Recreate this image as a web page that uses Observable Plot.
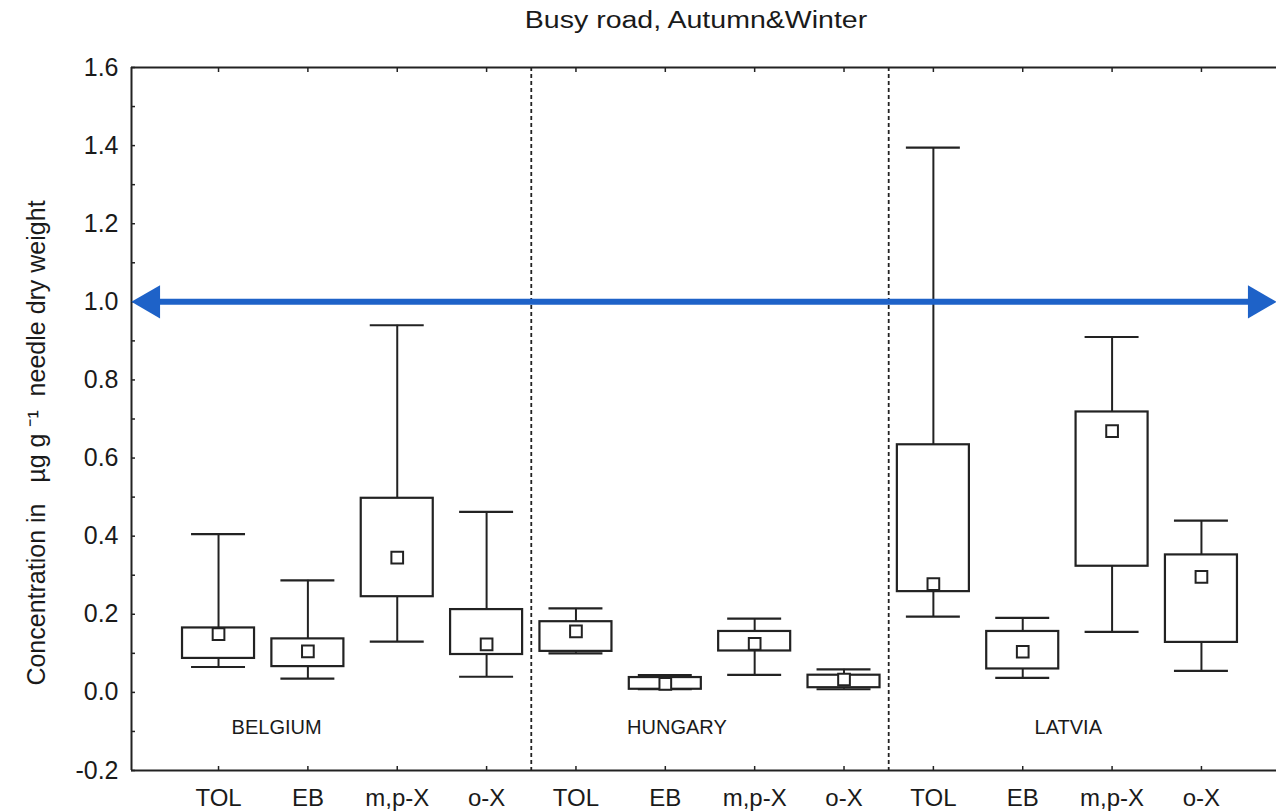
<!DOCTYPE html>
<html>
<head>
<meta charset="utf-8">
<script src="https://cdn.jsdelivr.net/npm/d3@7"></script>
<script src="https://cdn.jsdelivr.net/npm/@observablehq/plot@0.6"></script>
<style>
  body { margin: 0; background: #fff; }
  #wrap { position: relative; width: 1276px; height: 812px; overflow: hidden; }
  #title { position: absolute; top: 9px; left: 696px; transform: translateX(-50%) scaleX(1.24);
           font: 23px/23px "Liberation Sans", Arial, sans-serif; color: #1a1a1a; white-space: nowrap; }
  #chart { position: absolute; top: 0; left: 0; }
</style>
</head>
<body>
<div id="wrap">
  <div id="chart"></div>
  <div id="title">Busy road, Autumn&amp;Winter</div>
</div>
<script>
// ---- data ----
const countries = ["BELGIUM", "HUNGARY", "LATVIA"];
const compounds = ["TOL", "EB", "m,p-X", "o-X"];
// order: BELGIUM (TOL, EB, m,p-X, o-X), HUNGARY (...), LATVIA (...)
const whiskerLow  = [0.065, 0.035, 0.130, 0.040,   0.100, 0.008, 0.045, 0.008,   0.194, 0.037, 0.155, 0.055];
const boxLow      = [0.087, 0.066, 0.245, 0.097,   0.105, 0.008, 0.106, 0.012,   0.258, 0.060, 0.323, 0.128];
const meanValue   = [0.149, 0.105, 0.345, 0.123,   0.156, 0.022, 0.124, 0.033,   0.277, 0.104, 0.669, 0.296];
const boxHigh     = [0.165, 0.137, 0.497, 0.212,   0.181, 0.038, 0.156, 0.044,   0.634, 0.156, 0.718, 0.352];
const whiskerHigh = [0.405, 0.287, 0.940, 0.462,   0.215, 0.044, 0.189, 0.059,   1.395, 0.191, 0.910, 0.440];
const limitValue = 1.0;
const yTicksMajor = [-0.2, 0.0, 0.2, 0.4, 0.6, 0.8, 1.0, 1.2, 1.4, 1.6];
const yTicksMinor = [-0.2, -0.1, 0.0, 0.1, 0.2, 0.3, 0.4, 0.5, 0.6, 0.7, 0.8, 0.9, 1.0, 1.1, 1.2, 1.3, 1.4, 1.5, 1.6];
const countryLabelAt = [0.65, 5.13, 9.51]; // label anchor, in category-index units

// ---- table built from the arrays ----
const table = [];
countries.forEach((c, ci) => compounds.forEach((k, ki) => {
  const i = ci * compounds.length + ki;
  table.push({i, country: c, compound: k,
    lo: whiskerLow[i], q1: boxLow[i], mean: meanValue[i], q3: boxHigh[i], hi: whiskerHigh[i]});
}));
const idx = table.map(d => d.i);
const dividers = d3.range(1, countries.length).map(k => k * compounds.length - 0.5);
const xDomain = [-0.974, 11.84];
const yDomain = [-0.2, 1.6];
const ink = "#222";
const blue = "#1e62c8";

const chart = Plot.plot({
  width: 1276,
  height: 812,
  marginLeft: 131,
  marginRight: 0,
  marginTop: 67,
  marginBottom: 42,
  style: {fontFamily: "'Liberation Sans', Arial, sans-serif", color: "#1a1a1a", background: "#fff"},
  x: {type: "linear", domain: xDomain, label: null},
  y: {domain: yDomain, label: null},
  marks: [
    // frame lines (top, bottom, left)
    Plot.ruleY(yDomain, {stroke: ink, strokeWidth: 2}),
    Plot.ruleX([xDomain[0]], {stroke: ink, strokeWidth: 2}),
    // group dividers
    Plot.ruleX(dividers, {stroke: ink, strokeWidth: 1.8, strokeDasharray: "4,3"}),
    // axes
    Plot.axisY({ticks: yTicksMajor, tickSize: 0, tickPadding: 13, tickFormat: d => d.toFixed(1), fontSize: 25, label: null}),
    Plot.axisY({ticks: yTicksMinor, tickSize: 4, dx: 4, tickFormat: () => "", label: null, stroke: ink, strokeWidth: 1.5}),
    Plot.axisX({anchor: "top", ticks: idx, tickSize: 4, dy: 4, tickFormat: () => "", label: null, stroke: ink, strokeWidth: 1.5}),
    Plot.axisX({anchor: "bottom", ticks: idx, tickSize: 4, dy: -4, tickFormat: () => "", label: null, stroke: ink, strokeWidth: 1.5}),
    Plot.axisX({anchor: "bottom", ticks: idx, tickSize: 0, tickPadding: 18, tickFormat: i => table[i].compound, fontSize: 24, label: null}),
    // whiskers
    Plot.ruleX(table, {x: "i", y1: "q3", y2: "hi", stroke: ink, strokeWidth: 2}),
    Plot.ruleX(table, {x: "i", y1: "lo", y2: "q1", stroke: ink, strokeWidth: 2}),
    Plot.ruleY(table, {y: "hi", x1: d => d.i - 0.302, x2: d => d.i + 0.302, stroke: ink, strokeWidth: 2.2}),
    Plot.ruleY(table, {y: "lo", x1: d => d.i - 0.302, x2: d => d.i + 0.302, stroke: ink, strokeWidth: 2.2}),
    // boxes
    Plot.rect(table, {x1: d => d.i - 0.403, x2: d => d.i + 0.403, y1: "q1", y2: "q3", fill: "#fff", stroke: ink, strokeWidth: 2.2}),
    // means
    Plot.dot(table, {x: "i", y: "mean", symbol: "square", r: 6.6, fill: "#fff", stroke: ink, strokeWidth: 2}),
    // country labels
    Plot.text(countries, {x: (d, j) => countryLabelAt[j], text: d => d, frameAnchor: "bottom", dy: -43, lineAnchor: "middle", fontSize: 20, fill: "#1a1a1a"}),
    // y label
    Plot.text(["Concentration in\u00a0\u00a0\u00a0µg g\u00a0\u207b\u00b9\u00a0\u00a0needle dry weight"], {
      frameAnchor: "left", rotate: -90, dx: -95, dy: 24, textAnchor: "middle", lineAnchor: "middle", fontSize: 25, fill: "#1a1a1a"
    }),
    // blue double arrow at the limit
    Plot.ruleY([limitValue], {stroke: blue, strokeWidth: 6, insetLeft: 16, insetRight: 16}),
    Plot.dot([limitValue], {y: d => d, frameAnchor: "left", dx: 19, symbol: "triangle", rotate: -90, r: 12.3, fill: blue, stroke: "none"}),
    Plot.dot([limitValue], {y: d => d, frameAnchor: "right", dx: -19, symbol: "triangle", rotate: 90, r: 12.3, fill: blue, stroke: "none"})
  ]
});
document.getElementById("chart").appendChild(chart);
</script>
</body>
</html>
